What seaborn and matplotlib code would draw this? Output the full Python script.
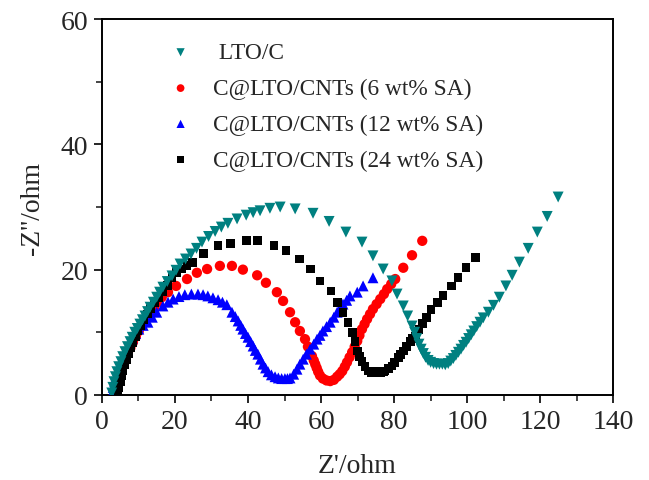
import numpy as np
import pandas as pd
import seaborn as sns
import matplotlib.pyplot as plt
from matplotlib.ticker import MultipleLocator

# LTO/C
lto_x = [2.7, 3.0, 3.3, 3.7, 4.1, 4.6, 5.2, 5.7, 6.3, 7.0, 7.7, 8.3, 9.0, 9.7, 10.4, 11.1, 11.8, 12.5,
         13.2, 14.1, 15.0, 15.8, 16.7, 17.9, 19.2, 20.3, 21.4, 22.9, 24.4, 25.9, 27.4, 29.2, 31.0, 32.7,
         34.5, 37.0, 39.5, 41.4, 43.3, 46.0, 48.8, 52.9, 57.8, 62.2, 66.8, 71.2, 74.2, 77.0, 79.4, 80.8,
         82.5, 83.7, 84.9, 85.6, 86.2, 86.8, 87.4, 88.0, 88.6, 89.3, 90.0, 90.8, 91.6, 92.4, 93.2, 94.0,
         94.8, 95.5, 96.2, 96.9, 97.6, 98.3, 99.0, 99.7, 100.4, 101.1, 101.8, 102.6, 103.5, 104.4, 105.8,
         107.2, 108.8, 110.6, 112.3, 114.3, 116.7, 119.2, 121.9, 124.9]
lto_y = [0.3, 1.2, 2.1, 2.9, 3.7, 4.5, 5.3, 6.1, 6.9, 7.7, 8.5, 9.2, 10.0, 10.6, 11.3, 12.0, 12.6, 13.3,
         14.0, 14.8, 15.6, 16.4, 17.2, 18.1, 19.0, 19.9, 20.9, 21.7, 22.5, 23.4, 24.4, 25.3, 26.1, 26.8,
         27.4, 28.1, 28.7, 29.1, 29.4, 29.8, 30.0, 29.7, 29.0, 27.7, 26.0, 24.4, 22.2, 20.1, 18.2, 16.1,
         14.2, 12.6, 11.0, 10.0, 9.0, 8.1, 7.3, 6.6, 6.0, 5.5, 5.2, 5.0, 4.9, 4.9, 4.9, 4.8,
         5.0, 5.4, 5.8, 6.3, 6.8, 7.3, 7.9, 8.4, 9.0, 9.6, 10.2, 10.9, 11.6, 12.3, 13.2,
         14.3, 15.6, 17.4, 19.1, 21.2, 23.4, 26.0, 28.5, 31.6]

# C@LTO/CNTs (6 wt% SA)
sa6_x = [3.8, 4.1, 4.5, 4.9, 5.4, 5.9, 6.5, 7.1, 7.8, 8.5, 9.3, 10.1, 11.0, 12.0, 13.1, 14.3, 15.3, 16.4,
         18.1, 20.3, 23.3, 26.0, 28.8, 32.3, 35.6, 38.6, 42.5, 44.9, 47.9, 49.6, 51.5, 52.9, 54.2, 55.6,
         56.4, 57.5, 58.0, 58.4, 58.8, 59.2, 59.7, 60.5, 61.5, 62.5, 63.5, 64.4, 65.1, 65.8, 66.5, 67.1,
         67.8, 68.5, 69.2, 69.9, 70.5, 71.2, 71.9, 72.6, 73.4, 74.2, 75.2, 76.2, 77.2, 78.1, 79.2, 80.3,
         82.5, 84.9, 87.7]
sa6_y = [0.3, 1.2, 2.1, 3.0, 3.9, 4.8, 5.7, 6.6, 7.5, 8.4, 9.3, 10.2, 11.1, 12.0, 12.9, 13.9, 14.8, 15.6,
         16.4, 17.4, 18.5, 19.5, 20.1, 20.6, 20.6, 20.0, 19.1, 17.9, 16.4, 15.0, 13.2, 11.6, 10.2, 8.9,
         7.7, 6.2, 5.5, 4.9, 4.3, 3.7, 3.1, 2.6, 2.3, 2.2, 2.4, 2.9, 3.3, 3.8, 4.5, 5.2,
         6.0, 6.8, 7.7, 8.6, 9.5, 10.5, 11.3, 12.1, 12.9, 13.7, 14.5, 15.3, 16.1, 16.9, 17.7, 18.5,
         20.3, 22.3, 24.6]

# C@LTO/CNTs (12 wt% SA)
sa12_x = [2.8, 3.1, 3.5, 3.9, 4.4, 4.9, 5.5, 6.1, 6.8, 7.5, 8.3, 9.2, 10.1, 11.3, 12.6, 13.8, 15.0, 16.7,
          18.1, 19.5, 21.1, 22.7, 24.5, 26.3, 27.7, 29.0, 30.4, 31.8, 33.0, 34.2, 35.6, 36.5, 37.3, 38.0,
          38.6, 39.3, 40.0, 40.7, 41.4, 42.0, 42.7, 43.4, 44.1, 44.8, 45.5, 46.4, 47.4, 48.3, 49.2, 50.1,
          50.8, 51.5, 52.5, 53.4, 54.2, 55.1, 56.0, 57.0, 58.0, 58.9, 59.7, 60.5, 61.5, 62.5, 63.5, 64.4,
          65.2, 66.0, 67.0, 67.9, 69.9, 71.5, 74.2]
sa12_y = [0.3, 1.2, 2.1, 3.0, 3.9, 4.8, 5.7, 6.5, 7.4, 8.2, 9.0, 9.8, 10.5, 11.1, 11.6, 12.4, 13.2, 14.2,
          14.8, 15.3, 15.7, 16.0, 16.1, 16.1, 16.0, 15.8, 15.5, 15.2, 14.8, 14.4, 13.2, 12.5, 11.8, 11.1,
          10.5, 9.8, 9.2, 8.5, 7.8, 7.1, 6.5, 5.7, 4.9, 4.3, 3.7, 3.2, 2.9, 2.7, 2.6, 2.6,
          2.6, 2.7, 3.3, 4.1, 4.9, 5.7, 6.5, 7.3, 8.1, 8.9, 9.5, 10.2, 10.9, 11.6, 12.4, 13.2,
          13.8, 14.5, 15.1, 15.8, 16.4, 17.4, 18.7]

# C@LTO/CNTs (24 wt% SA)
sa24_x = [4.4, 4.7, 5.0, 5.4, 5.8, 6.3, 6.8, 7.3, 7.9, 8.5, 9.2, 9.9, 10.7, 11.5, 12.4, 13.4, 14.4, 15.5,
          16.7, 18.0, 19.2, 20.5, 21.9, 23.3, 24.7, 27.9, 31.8, 35.1, 39.5, 42.7, 47.1, 50.4, 54.0, 57.0,
          59.7, 62.7, 64.4, 66.0, 67.4, 68.5, 69.3, 69.9, 70.5, 71.2, 72.0, 72.9, 73.8, 74.6, 75.3, 76.2,
          77.0, 77.5, 78.5, 79.4, 80.2, 81.1, 81.8, 82.5, 83.4, 84.4, 85.1, 85.8, 86.8, 87.8, 88.8, 90.1,
          91.8, 93.4, 95.6, 97.5, 99.7, 102.2]
sa24_y = [0.3, 1.2, 2.1, 3.0, 3.9, 4.8, 5.7, 6.6, 7.5, 8.4, 9.3, 10.2, 11.1, 12.0, 12.9, 13.8, 14.7, 15.6,
          16.5, 17.5, 18.7, 19.5, 20.1, 20.7, 21.2, 22.6, 23.8, 24.2, 24.7, 24.6, 23.9, 23.0, 21.7, 20.1,
          18.2, 16.6, 14.8, 13.2, 11.6, 10.0, 8.5, 7.0, 6.1, 5.3, 4.5, 3.8, 3.6, 3.6, 3.7, 3.6,
          3.7, 3.8, 4.2, 4.6, 5.2, 6.0, 6.5, 7.0, 7.7, 8.5, 9.0, 9.4, 10.5, 11.4, 12.3, 13.6,
          14.8, 15.9, 17.4, 18.7, 20.3, 21.9]

labels = [" LTO/C", "C@LTO/CNTs (6 wt% SA)", "C@LTO/CNTs (12 wt% SA)", "C@LTO/CNTs (24 wt% SA)"]

sns.set_theme(style="ticks")
plt.rcParams['font.family'] = ['Liberation Serif', 'DejaVu Serif']

fig, ax = plt.subplots(figsize=(6.49, 4.81), dpi=100)
fig.subplots_adjust(left=0.157, right=0.945, bottom=0.177, top=0.958)

# drawing order: red, blue, black, teal on top
series = [
    (sa6_x, sa6_y, labels[1], "o", "#ff0000", 55),
    (sa12_x, sa12_y, labels[2], "^", "#0000ff", 62),
    (sa24_x, sa24_y, labels[3], "s", "#000000", 40),
    (lto_x, lto_y, labels[0], "v", "#008080", 62),
]
for xs, ys, lab, mk, col, sz in series:
    sns.scatterplot(x=xs, y=ys, ax=ax, marker=mk, color=col, s=sz,
                    edgecolor="none", linewidth=0, label=lab, zorder=3)

ax.set_xlim(0, 140)
ax.set_ylim(0, 60)
ax.xaxis.set_major_locator(MultipleLocator(20))
ax.xaxis.set_minor_locator(MultipleLocator(10))
ax.yaxis.set_major_locator(MultipleLocator(20))
ax.yaxis.set_minor_locator(MultipleLocator(10))
ax.tick_params(which="major", direction="out", length=6, width=1.4, labelsize=20, pad=4)
ax.tick_params(which="minor", direction="out", length=4, width=1.2)
for sp in ax.spines.values():
    sp.set_linewidth(1.4)
    sp.set_color("black")

ax.set_xlabel("Z'/ohm", fontsize=20, labelpad=14)
ax.set_ylabel("-Z''/ohm", fontsize=20, labelpad=11)

handles, labs = ax.get_legend_handles_labels()
order = [labs.index(l) for l in labels]
ax.legend([handles[i] for i in order], [labs[i] for i in order],
          loc="upper left", bbox_to_anchor=(0.09, 0.995), frameon=False,
          fontsize=16.8, markerscale=0.75, handletextpad=0.9, labelspacing=0.62,
          handlelength=1.0)

plt.savefig("out.png", dpi=100)
plt.close()
